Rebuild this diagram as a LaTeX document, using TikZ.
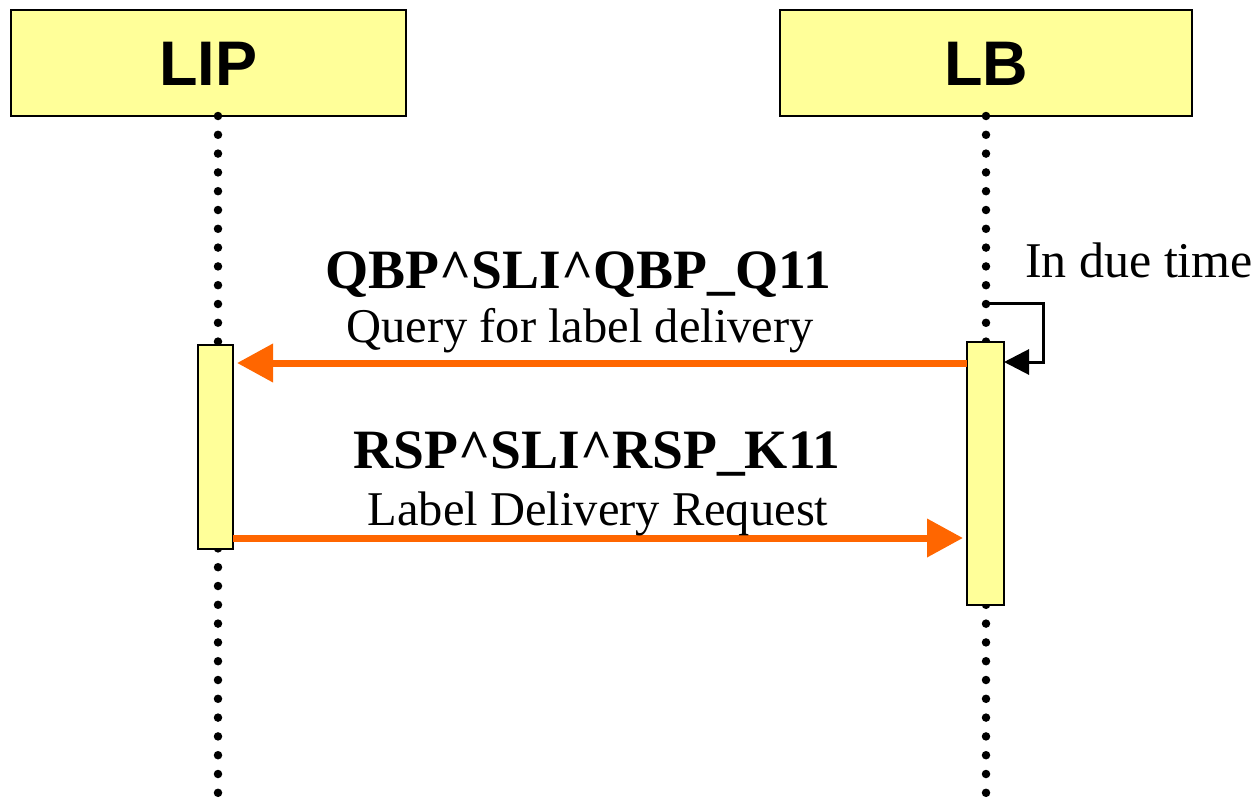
\documentclass[tikz,border=0pt]{standalone}
\usepackage{fontspec}
\setmainfont{Liberation Serif}
\newfontfamily\headfont{Liberation Sans}
\usetikzlibrary{arrows.meta}
\definecolor{boxyellow}{HTML}{FFFF99}
\definecolor{msgorange}{HTML}{FF6600}
\begin{document}
\begin{tikzpicture}[x=1pt,y=-1pt,
  headbox/.style={draw=black, line width=2.5pt, fill=boxyellow, minimum height=106pt,
    inner sep=0pt, text height=45pt, text depth=0pt, font=\headfont\bfseries\fontsize{63}{63}\selectfont},
  actbox/.style={draw=black, line width=2pt, fill=boxyellow, inner sep=0pt},
  lifeline/.style={line width=8.5pt, line cap=round, dash pattern=on 0pt off 18.8pt},
  msg/.style={draw=msgorange, line width=7pt, -{Triangle[length=36pt,width=37pt]}, shorten >=4pt},
  selfmsg/.style={draw=black, line width=3pt, -{Triangle[length=25pt,width=25pt]}},
  msgtitle/.style={anchor=base, inner sep=0pt, font=\bfseries\fontsize{55.5}{55.5}\selectfont},
  msgsub/.style={anchor=base, inner sep=0pt, font=\fontsize{48.5}{48.5}\selectfont}]
\useasboundingbox (0,0) rectangle (1255,800);
% header boxes
\node[headbox, minimum width=395pt] (lip) at (208.5,63) {LIP};
\node[headbox, minimum width=412pt] (lb) at (986,63) {LB};
% lifelines
\coordinate (liptop) at (218,116);
\coordinate (lipbot) at (218,805);
\coordinate (lbtop) at (986,116);
\coordinate (lbbot) at (986,805);
\draw[lifeline] (liptop) -- (lipbot);
\draw[lifeline] (lbtop) -- (lbbot);
% activation boxes
\node[actbox, minimum width=35pt, minimum height=204pt] (lipact) at (215.5,447) {};
\node[actbox, minimum width=37pt, minimum height=263pt] (lbact) at (985.5,473.5) {};
% self message
\coordinate (loopstart) at (986,303);
\coordinate (loopa) at (1043,303);
\coordinate (loopb) at (1043,362);
\coordinate (loopend) at (1004,362);
\draw[selfmsg] (loopstart) -- (loopa) -- (loopb) -- (loopend);
\node[anchor=base west, inner sep=0pt, font=\fontsize{50}{50}\selectfont] (due) at (1025,277) {In due time};
% message 1
\coordinate (m1s) at (967,363);
\coordinate (m1e) at (233,363);
\draw[msg] (m1s) -- (m1e);
\node[msgtitle] (t1) at (578,288) {QBP\textasciicircum SLI\textasciicircum QBP\_Q11};
\node[msgsub] (s1) at (580,342) {Query for label delivery};
% message 2
\coordinate (m2s) at (233,538);
\coordinate (m2e) at (967,538);
\draw[msg] (m2s) -- (m2e);
\node[msgtitle] (t2) at (597,468) {RSP\textasciicircum SLI\textasciicircum RSP\_K11};
\node[msgsub] (s2) at (598,525) {Label Delivery Request};
\end{tikzpicture}
\end{document}
